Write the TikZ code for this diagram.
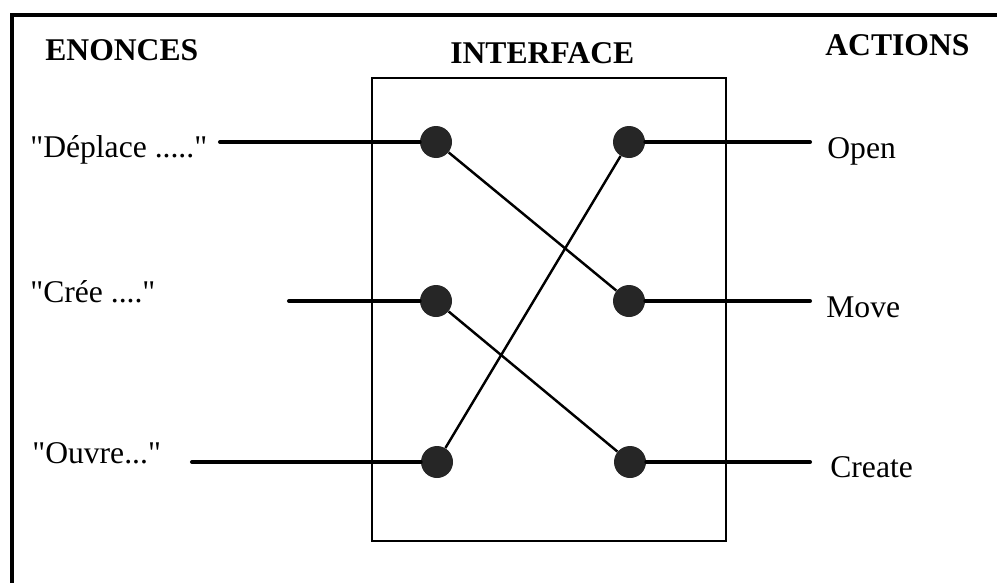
\documentclass[tikz,border=0pt]{standalone}
\usepackage{fontspec}
\setmainfont{Liberation Serif}[Ligatures=TeXOff]
\usetikzlibrary{positioning}

\begin{document}
\begin{tikzpicture}[
    x=0.02cm, y=-0.02cm,
    txt/.style={font=\fontsize{18}{21}\selectfont, inner sep=0pt, anchor=base west},
    heading/.style={txt, font=\fontsize{18}{21}\selectfont\bfseries},
    dot/.style={circle, fill=black!85, minimum size=0.64cm, inner sep=0pt},
    wire/.style={line width=2.3pt, line cap=round},
    cross/.style={line width=1.4pt},
]
\useasboundingbox (0,0) rectangle (997,582);
\clip (0,0) rectangle (997,582);
% outer frame, it runs off the page
\draw[line width=2.3pt] (12,15) rectangle (1030,610);

\node[heading] (enonces) at (45,60) {ENONCES};
\node[heading] (interface) at (450,63) {INTERFACE};
\node[heading] (actions) at (825,55) {ACTIONS};

\draw[line width=1.1pt] (372,78) rectangle (726,541);

% statements
\node[txt] (tDepl) at (30,157) {"Déplace ....."};
\node[txt] (tCree) at (30,302) {"Crée ...."};
\node[txt] (tOuvre) at (32,463) {"Ouvre..."};
\coordinate (sDepl) at (220,142);
\coordinate (sCree) at (289,301);
\coordinate (sOuvre) at (192,462);

% actions
\node[txt] (tOpen) at (827,158) {Open};
\node[txt] (tMove) at (826,317) {Move};
\node[txt] (tCreate) at (830,477) {Create};
\coordinate (eOpen) at (810,142);
\coordinate (eMove) at (810,301);
\coordinate (eCreate) at (810,462);

% interface points
\node[dot] (inDepl) at (436,142) {};
\node[dot] (inCree) at (436,301) {};
\node[dot] (inOuvre) at (437,462) {};
\node[dot] (outOpen) at (629,142) {};
\node[dot] (outMove) at (629,301) {};
\node[dot] (outCreate) at (630,462) {};

\draw[wire] (sDepl) -- (inDepl);
\draw[wire] (sCree) -- (inCree);
\draw[wire] (sOuvre) -- (inOuvre);
\draw[wire] (outOpen) -- (eOpen);
\draw[wire] (outMove) -- (eMove);
\draw[wire] (outCreate) -- (eCreate);

\draw[cross] (inDepl) -- (outMove);
\draw[cross] (inCree) -- (outCreate);
\draw[cross] (inOuvre) -- (outOpen);
\end{tikzpicture}
\end{document}
